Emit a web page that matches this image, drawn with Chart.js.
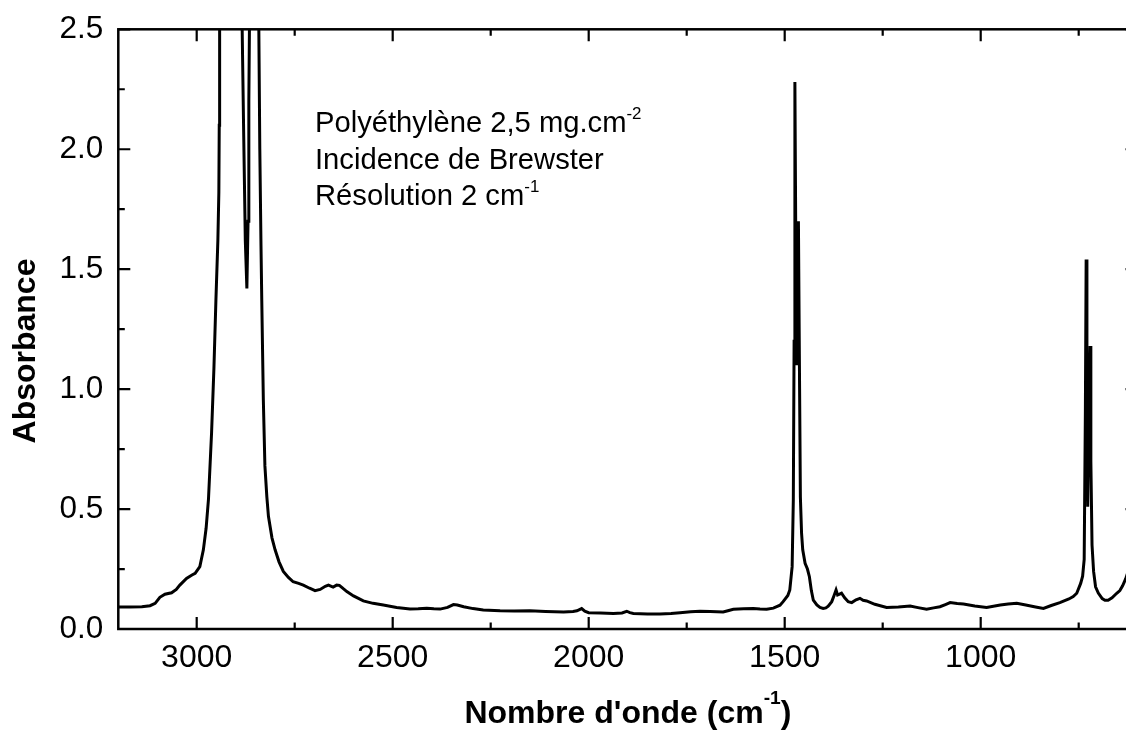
<!DOCTYPE html>
<html><head><meta charset="utf-8">
<script src="https://cdn.jsdelivr.net/npm/chart.js@4.4.1/dist/chart.umd.min.js"></script>
<style>
html,body{margin:0;padding:0;overflow:hidden;background:#fff;width:1126px;height:735px}
#wrap{position:relative;width:1160px;height:735px}
</style>
</head><body><div id="wrap"><canvas id="c" width="1160" height="735"></canvas></div>
<script>
// ---- data ----
const wavenumbers = [
 3200,3170,3140,3119,3106,3094,3081,3064,3052,3043,3026,3012,3004,2992,2983,2976,2970,2962,2956,2951,2946,2943.5,2942.5,2941.5,2936,2925,2905,2890,2884,2880,2876,2872,2869,2867,2865,2858,2848,2842,2839,2836,2834,2830,2826,2821,2817,2808,2800,2790,2779,2766,2754,2740,2728,2712,2698,2685,2672,2664,2652,2643,2636,2626,2617,2600,2575,2550,2524,2490,2456,2435,2413,2395,2379,2360,2345,2335,2319,2295,2269,2226,2190,2150,2110,2064,2040,2030,2018,2010,2000,1970,1937,1915,1903,1895,1886,1850,1818,1790,1767,1740,1716,1690,1657,1645,1631,1605,1580,1563,1546,1529,1512,1504,1492,1487,1481,1478,1476,1474,1472,1470,1467,1465,1462,1460,1457,1454,1448,1442,1437,1432,1427,1418,1410,1402,1395,1389,1380,1374,1369,1365,1360,1355,1347,1338,1329,1318,1308,1300,1291,1270,1240,1210,1180,1160,1138,1120,1104,1090,1078,1060,1044,1015,985,950,930,908,885,860,840,820,798,775,764,755,745,740,736,733,731,729,727,725,721,719,716,712,707,700,690,683,675,665,653,645,638,630,620,610,600
];
const absorbance = [
 0.092,0.092,0.093,0.097,0.107,0.132,0.145,0.151,0.165,0.183,0.211,0.225,0.232,0.26,0.33,0.42,0.54,0.82,1.09,1.37,1.62,1.82,2.1,2.5,3.1,3.4,3.3,2.9,2.5,2.05,1.62,1.42,1.7,2.2,2.6,3.2,3.3,2.6,2.0,1.6,1.37,0.955,0.68,0.55,0.47,0.38,0.33,0.28,0.24,0.215,0.197,0.19,0.183,0.17,0.16,0.165,0.178,0.183,0.175,0.183,0.182,0.168,0.156,0.138,0.117,0.107,0.10,0.09,0.083,0.084,0.086,0.084,0.083,0.09,0.102,0.1,0.093,0.085,0.079,0.076,0.075,0.076,0.073,0.071,0.073,0.076,0.085,0.074,0.068,0.067,0.065,0.067,0.074,0.068,0.065,0.063,0.063,0.065,0.068,0.072,0.074,0.073,0.071,0.076,0.082,0.084,0.085,0.083,0.082,0.087,0.099,0.114,0.14,0.163,0.26,0.54,1.2,2.28,1.7,1.10,1.4,1.70,1.0,0.55,0.40,0.33,0.274,0.25,0.218,0.16,0.12,0.10,0.09,0.086,0.088,0.095,0.114,0.14,0.163,0.142,0.145,0.149,0.13,0.114,0.11,0.122,0.128,0.12,0.117,0.103,0.09,0.092,0.096,0.089,0.082,0.088,0.093,0.102,0.11,0.106,0.104,0.096,0.09,0.1,0.104,0.107,0.1,0.092,0.086,0.098,0.11,0.125,0.135,0.149,0.19,0.22,0.29,0.9,1.54,1.0,0.51,0.8,1.18,0.7,0.35,0.24,0.176,0.15,0.127,0.12,0.12,0.13,0.149,0.16,0.18,0.21,0.26,0.31,0.37
];
const xTickValues = [3000, 2500, 2000, 1500, 1000];
const xMinorValues = [2750, 2250, 1750, 1250, 750];
const yTickValues = [0, 0.5, 1, 1.5, 2, 2.5];
const yMinorValues = [0.25, 0.75, 1.25, 1.75, 2.25];
const yTickLabels = ["0.0", "0.5", "1.0", "1.5", "2.0", "2.5"];
const xTitleParts = [{t: "Nombre d'onde (cm"}, {t: "-1", sup: true}, {t: ")"}];
const yTitleText = "Absorbance";
const noteLines = [
  [{t: "Polyéthylène 2,5 mg.cm"}, {t: "-2", sup: true}],
  [{t: "Incidence de Brewster"}],
  [{t: "Résolution 2 cm"}, {t: "-1", sup: true}]
];

// ---- drawing ----
const FONT = '"Liberation Sans", Arial, Helvetica, sans-serif';

function drawRich(ctx, parts, x, y, size, weight, align, supScale, supRise) {
  const supSize = size * supScale;
  const widths = parts.map(p => {
    ctx.font = weight + ' ' + (p.sup ? supSize : size) + 'px ' + FONT;
    return ctx.measureText(p.t).width;
  });
  const total = widths.reduce((a, b) => a + b, 0);
  let cx = align === 'center' ? x - total / 2 : x;
  ctx.textAlign = 'left';
  ctx.textBaseline = 'alphabetic';
  parts.forEach((p, i) => {
    ctx.font = weight + ' ' + (p.sup ? supSize : size) + 'px ' + FONT;
    ctx.fillText(p.t, cx, p.sup ? y - size * supRise : y);
    cx += widths[i];
  });
}

const framePlugin = {
  id: 'frameTicks',
  afterDraw(chart) {
    const {ctx, chartArea: a, scales} = chart;
    const xs = scales.x, ys = scales.y;
    ctx.save();
    ctx.strokeStyle = '#000';
    ctx.fillStyle = '#000';
    ctx.lineWidth = 2.5;
    ctx.strokeRect(a.left, a.top, a.right - a.left, a.bottom - a.top);
    ctx.lineWidth = 2.2;
    ctx.beginPath();
    const xt = (vals, len) => vals.forEach(v => {
      const px = xs.getPixelForValue(v);
      ctx.moveTo(px, a.bottom); ctx.lineTo(px, a.bottom - len);
      ctx.moveTo(px, a.top); ctx.lineTo(px, a.top + len);
    });
    const yt = (vals, len) => vals.forEach(v => {
      const py = ys.getPixelForValue(v);
      ctx.moveTo(a.left, py); ctx.lineTo(a.left + len, py);
      ctx.moveTo(a.right, py); ctx.lineTo(a.right - len, py);
    });
    xt(xTickValues, 12); xt(xMinorValues, 6.5);
    yt(yTickValues, 12); yt(yMinorValues, 6.5);
    ctx.stroke();

    // axis titles
    drawRich(ctx, xTitleParts, (a.left + a.right) / 2, 723, 32, 'bold', 'center', 0.6, 0.58);
    ctx.save();
    ctx.translate(35, 351);
    ctx.rotate(-Math.PI / 2);
    ctx.font = 'bold 32px ' + FONT;
    ctx.textAlign = 'center';
    ctx.textBaseline = 'alphabetic';
    ctx.fillText(yTitleText, 0, 0);
    ctx.restore();

    // annotation
    const baselines = [132, 168.5, 205];
    noteLines.forEach((ln, i) => drawRich(ctx, ln, 315, baselines[i], 29.2, 'normal', 'left', 0.58, 0.46));
    ctx.restore();
  }
};

const noPad = s => { s.paddingTop = 0; s.paddingBottom = 0; s.paddingLeft = 0; s.paddingRight = 0; };

new Chart(document.getElementById('c'), {
  type: 'line',
  data: {
    datasets: [{
      data: wavenumbers.map((w, i) => ({x: w, y: absorbance[i]})),
      borderColor: '#000',
      borderWidth: 3,
      pointRadius: 0,
      tension: 0,
      fill: false,
      clip: 0
    }]
  },
  options: {
    responsive: false,
    animation: false,
    devicePixelRatio: 1,
    layout: {padding: {top: 29.3, right: 22.5, left: 0, bottom: 0}},
    plugins: {legend: {display: false}, tooltip: {enabled: false}},
    scales: {
      x: {
        type: 'linear', reverse: true, min: 600, max: 3200,
        afterBuildTicks: s => { s.ticks = xTickValues.map(v => ({value: v})); },
        afterFit: s => { s.height = 106; noPad(s); },
        grid: {display: false, drawTicks: false},
        border: {display: false},
        ticks: {color: '#000', font: {family: FONT, size: 32}, padding: 10, maxRotation: 0, autoSkip: false,
                callback: v => String(v)}
      },
      y: {
        type: 'linear', min: 0, max: 2.5,
        afterBuildTicks: s => { s.ticks = yTickValues.map(v => ({value: v})); },
        afterFit: s => { s.width = 118.3; noPad(s); },
        grid: {display: false, drawTicks: false},
        border: {display: false},
        ticks: {color: '#000', font: {family: FONT, size: 31.5}, padding: 15, autoSkip: false,
                callback: (v, i) => yTickLabels[i]}
      }
    }
  },
  plugins: [framePlugin]
});
</script>
</body></html>
